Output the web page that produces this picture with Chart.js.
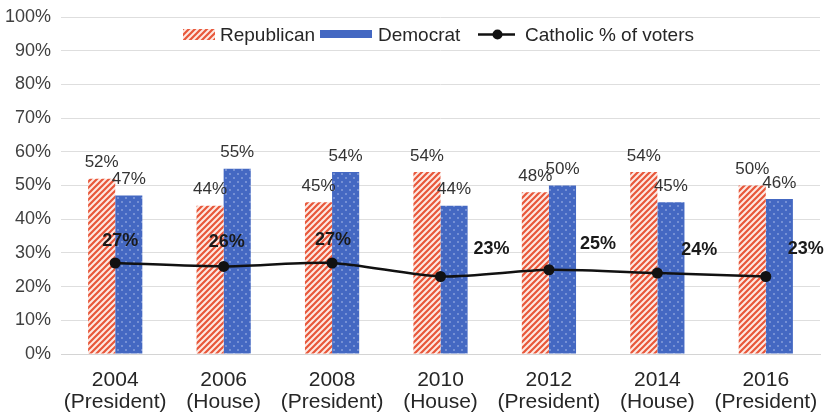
<!DOCTYPE html>
<html>
<head>
<meta charset="utf-8">
<script src="https://cdn.jsdelivr.net/npm/chart.js@4/dist/chart.umd.min.js"></script>
<style>
  html, body { margin: 0; padding: 0; background: #ffffff; }
  #wrap { position: relative; width: 829px; height: 420px; font-family: "Liberation Sans", Arial, sans-serif; }
  #legend { position: absolute; top: 24px; left: 0; width: 829px; height: 22px; }
  #legend .sw { position: absolute; }
  #legend .tx { position: absolute; top: 0; font-size: 19px; line-height: 21px; color: #262626; white-space: nowrap; }
</style>
</head>
<body>
<div id="wrap">
  <canvas id="c" width="829" height="420"></canvas>
  <div id="legend"></div>
</div>
<script>
// ---- data ----
const years = ["2004", "2006", "2008", "2010", "2012", "2014", "2016"];
const offices = ["(President)", "(House)", "(President)", "(House)", "(President)", "(House)", "(President)"];
const republican = [52, 44, 45, 54, 48, 54, 50];
const democrat = [47, 55, 54, 44, 50, 45, 46];
const catholic = [27, 26, 27, 23, 25, 24, 23];
const seriesNames = ["Republican", "Democrat", "Catholic % of voters"];
const yTicks = [0, 10, 20, 30, 40, 50, 60, 70, 80, 90, 100];

const FONT = '"Liberation Sans", Arial, sans-serif';

// ---- patterns ----
function hatchPattern() {
  const s = 6, cv = document.createElement('canvas');
  cv.width = s; cv.height = s;
  const g = cv.getContext('2d');
  g.fillStyle = '#fde9e3'; g.fillRect(0, 0, s, s);
  g.strokeStyle = '#e8573a'; g.lineWidth = 2.2; g.lineCap = 'square';
  g.beginPath();
  g.moveTo(-1, s + 1); g.lineTo(s + 1, -1);
  g.moveTo(-s / 2 - 1, s / 2 + 1); g.lineTo(s / 2 + 1, -s / 2 - 1);
  g.moveTo(s / 2 - 1, s * 1.5 + 1); g.lineTo(s * 1.5 + 1, s / 2 - 1);
  g.stroke();
  return cv;
}
function dotPattern() {
  const s = 8, cv = document.createElement('canvas');
  cv.width = s; cv.height = s;
  const g = cv.getContext('2d');
  g.fillStyle = '#4468c2'; g.fillRect(0, 0, s, s);
  g.fillStyle = 'rgba(220,228,250,0.75)';
  g.beginPath(); g.arc(2, 2, 0.8, 0, Math.PI * 2); g.fill();
  g.beginPath(); g.arc(6, 6, 0.8, 0, Math.PI * 2); g.fill();
  return cv;
}
const ctx = document.getElementById('c').getContext('2d');
const repFill = ctx.createPattern(hatchPattern(), 'repeat');
const demFill = ctx.createPattern(dotPattern(), 'repeat');

// ---- legend (HTML) ----
(function buildLegend() {
  const lg = document.getElementById('legend');
  function sw(left, top, w, h, draw) {
    const cv = document.createElement('canvas');
    cv.width = w; cv.height = h; cv.className = 'sw';
    cv.style.left = left + 'px'; cv.style.top = top + 'px';
    draw(cv.getContext('2d'), w, h);
    lg.appendChild(cv);
  }
  function tx(left, text) {
    const d = document.createElement('div');
    d.className = 'tx'; d.style.left = left + 'px'; d.textContent = text;
    lg.appendChild(d);
  }
  sw(183, 5, 32, 11, (g, w, h) => { g.fillStyle = g.createPattern(hatchPattern(), 'repeat'); g.fillRect(0, 0, w, h); });
  tx(220, seriesNames[0]);
  sw(320, 6, 52, 8, (g, w, h) => { g.fillStyle = '#4468c2'; g.fillRect(0, 0, w, h); });
  tx(378, seriesNames[1]);
  sw(478, 0, 37, 21, (g, w, h) => {
    g.strokeStyle = '#111'; g.lineWidth = 2.5;
    g.beginPath(); g.moveTo(0, h / 2); g.lineTo(w, h / 2); g.stroke();
    g.fillStyle = '#111'; g.beginPath(); g.arc(w / 2 + 1, h / 2, 5, 0, Math.PI * 2); g.fill();
  });
  tx(525, seriesNames[2]);
})();

// ---- value labels plugin ----
const valueLabels = {
  id: 'valueLabels',
  afterDatasetsDraw(chart, args, opts) {
    const c = chart.ctx;
    c.save();
    [0, 1].forEach(di => {
      const meta = chart.getDatasetMeta(di);
      const data = chart.data.datasets[di].data;
      c.font = '17px ' + FONT;
      c.fillStyle = '#333333';
      c.textAlign = 'center';
      c.textBaseline = 'middle';
      meta.data.forEach((el, i) => {
        c.fillText(data[i] + '%', el.x, el.y - 16);
      });
    });
    const lm = chart.getDatasetMeta(2);
    const ld = chart.data.datasets[2].data;
    c.font = 'bold 18px ' + FONT;
    c.fillStyle = '#1a1a1a';
    c.textAlign = 'center';
    c.textBaseline = 'middle';
    lm.data.forEach((el, i) => {
      const off = opts.lineOffsets[i];
      c.fillText(ld[i] + '%', el.x + off[0], el.y + off[1]);
    });
    c.restore();
  }
};

const labels = years.map((y, i) => [y, offices[i]]);

new Chart(ctx, {
  data: {
    labels: labels,
    datasets: [
      { type: 'bar', label: seriesNames[0], data: republican, backgroundColor: repFill, borderWidth: 0, order: 1,
        categoryPercentage: 0.5, barPercentage: 1.0 },
      { type: 'bar', label: seriesNames[1], data: democrat, backgroundColor: demFill, borderWidth: 0, order: 1,
        categoryPercentage: 0.5, barPercentage: 1.0 },
      { type: 'line', label: seriesNames[2], data: catholic, borderColor: '#111111', borderWidth: 2.5,
        backgroundColor: '#111111', pointRadius: 5.5, pointBackgroundColor: '#111111', pointBorderWidth: 0,
        tension: 0.25, fill: false, order: 0 }
    ]
  },
  options: {
    responsive: false,
    animation: false,
    events: [],
    layout: { padding: { top: 17, right: 9, bottom: 7, left: 0 } },
    plugins: {
      legend: { display: false },
      tooltip: { enabled: false },
      valueLabels: {
        lineOffsets: [[5, -22], [3, -24], [1, -23], [51, -27], [49, -26], [42, -23], [40, -27]]
      }
    },
    scales: {
      x: {
        afterFit(scale) { scale.height = 59; },
        grid: { display: false, drawTicks: true, tickLength: 15, tickColor: 'rgba(0,0,0,0)' },
        border: { display: true, color: '#d4d4d4', width: 1 },
        ticks: { color: '#262626', font: { family: FONT, size: 21, lineHeight: 1.05 }, padding: 0, maxRotation: 0, autoSkip: false }
      },
      y: {
        min: 0, max: 100,
        afterFit(scale) { scale.width = 61; },
        afterBuildTicks(scale) { scale.ticks = yTicks.map(v => ({ value: v })); },
        grid: { color: '#dedede', lineWidth: 1, drawTicks: true, tickLength: 10, tickColor: 'rgba(0,0,0,0)' },
        border: { display: false },
        ticks: { color: '#404040', font: { family: FONT, size: 18 }, padding: 0, callback: v => v + '%' }
      }
    }
  },
  plugins: [valueLabels]
});
</script>
</body>
</html>
